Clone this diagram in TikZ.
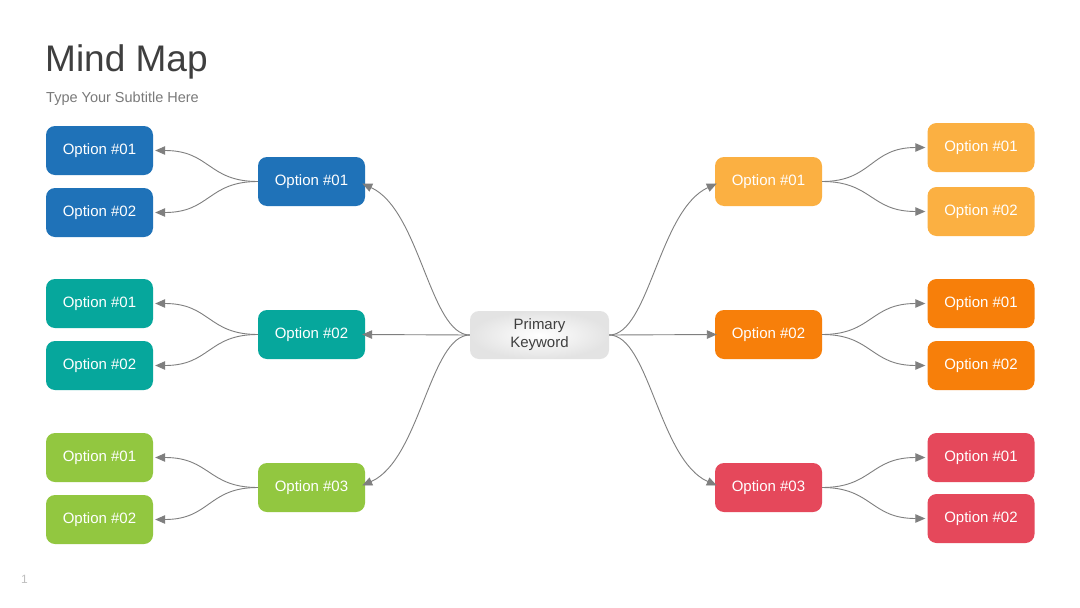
\documentclass[tikz,border=0pt]{standalone}
\usepackage{fontspec}
\setmainfont{Liberation Sans}
\usetikzlibrary{arrows.meta}
\definecolor{cblue}{HTML}{1F72B8}
\definecolor{cteal}{HTML}{06A79C}
\definecolor{cgreen}{HTML}{92C740}
\definecolor{clorange}{HTML}{FBB042}
\definecolor{corange}{HTML}{F77F0A}
\definecolor{cred}{HTML}{E5485B}
\definecolor{ctitle}{HTML}{3F3F3F}
\definecolor{csub}{HTML}{7A7A7A}
\definecolor{cline}{HTML}{7F7F7F}
\tikzset{
  optbox/.style={rounded corners=9pt, minimum width=107pt, minimum height=49pt,
    inner sep=0pt, text=white, font=\fontsize{15}{18}\selectfont},
  keybox/.style={rounded corners=9pt, minimum width=139pt, minimum height=48pt,
    inner sep=0pt, text=ctitle, align=center, inner color=white, outer color=black!11,
    font=\fontsize{15}{18}\selectfont},
  conn/.style={draw=cline, line width=0.9pt, -{Triangle[length=10pt,width=8.5pt]}},
}
\begin{document}
\begin{tikzpicture}[x=1pt,y=-1pt]
\useasboundingbox[fill=white] (0,0) rectangle (1080,608);
% titles
\node[anchor=base west, inner sep=0pt, text=ctitle, font=\fontsize{37}{40}\selectfont] (title) at (45,71) {Mind Map};
\node[anchor=base west, inner sep=0pt, text=csub, font=\fontsize{14.5}{17}\selectfont] (sub) at (46,102) {Type Your Subtitle Here};
\node[anchor=base west, inner sep=0pt, text=black!25, font=\fontsize{12}{14}\selectfont] (pg) at (21,583) {1};
% center
\node[keybox] (key) at (539.5,335) {Primary\\Keyword};
% left middle
\node[optbox, fill=cblue] (L1) at (311.5,181.5) {Option \#01};
\node[optbox, fill=cteal] (L2) at (311.5,334.5) {Option \#02};
\node[optbox, fill=cgreen] (L3) at (311.5,487.5) {Option \#03};
% left leaves
\node[optbox, fill=cblue] (L1a) at (99.5,150.5) {Option \#01};
\node[optbox, fill=cblue] (L1b) at (99.5,212.5) {Option \#02};
\node[optbox, fill=cteal] (L2a) at (99.5,303.5) {Option \#01};
\node[optbox, fill=cteal] (L2b) at (99.5,365.5) {Option \#02};
\node[optbox, fill=cgreen] (L3a) at (99.5,457.5) {Option \#01};
\node[optbox, fill=cgreen] (L3b) at (99.5,519.5) {Option \#02};
% right middle
\node[optbox, fill=clorange] (R1) at (768.5,181.5) {Option \#01};
\node[optbox, fill=corange] (R2) at (768.5,334.5) {Option \#02};
\node[optbox, fill=cred] (R3) at (768.5,487.5) {Option \#03};
% right leaves
\node[optbox, fill=clorange] (R1a) at (981,147.5) {Option \#01};
\node[optbox, fill=clorange] (R1b) at (981,211.5) {Option \#02};
\node[optbox, fill=corange] (R2a) at (981,303.5) {Option \#01};
\node[optbox, fill=corange] (R2b) at (981,365.5) {Option \#02};
\node[optbox, fill=cred] (R3a) at (981,457.5) {Option \#01};
\node[optbox, fill=cred] (R3b) at (981,518.5) {Option \#02};
% center connectors
\draw[conn] (key.west) .. controls (430,335) and (420,210) .. ([xshift=-3pt,yshift=-2pt]L1.east);
\draw[conn] (key.west) -- ([xshift=-3pt]L2.east);
\draw[conn] (key.west) .. controls (430,335) and (420,460) .. ([xshift=-3pt,yshift=2pt]L3.east);
\draw[conn] (key.east) .. controls (649,335) and (659,210) .. ([xshift=2pt,yshift=-2pt]R1.west);
\draw[conn] (key.east) -- ([xshift=2pt]R2.west);
\draw[conn] (key.east) .. controls (649,335) and (659,460) .. ([xshift=2pt,yshift=2pt]R3.west);
% left leaf connectors
\foreach \p/\a/\b in {L1/L1a/L1b, L2/L2a/L2b, L3/L3a/L3b}{
  \draw[conn] (\p.west) .. controls +(-50,0) and +(55,0) .. ([xshift=2pt]\a.east);
  \draw[conn] (\p.west) .. controls +(-50,0) and +(55,0) .. ([xshift=2pt]\b.east);
}
% right leaf connectors
\foreach \p/\a/\b in {R1/R1a/R1b, R2/R2a/R2b, R3/R3a/R3b}{
  \draw[conn] (\p.east) .. controls +(50,0) and +(-55,0) .. ([xshift=-2pt]\a.west);
  \draw[conn] (\p.east) .. controls +(50,0) and +(-55,0) .. ([xshift=-2pt]\b.west);
}
\end{tikzpicture}
\end{document}
